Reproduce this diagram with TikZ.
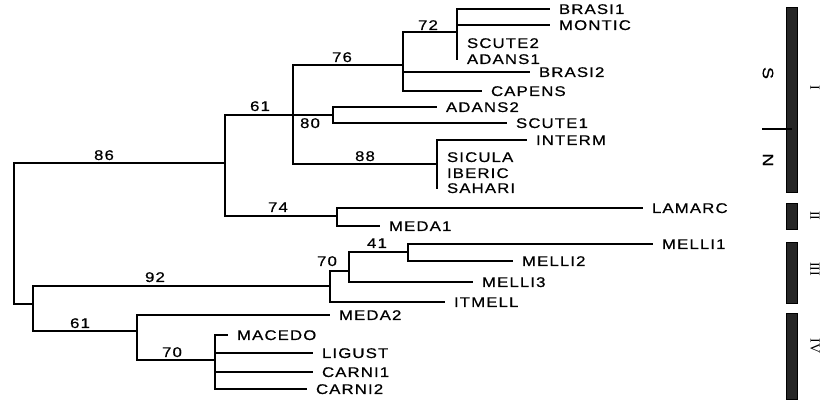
\documentclass[tikz,border=0pt]{standalone}
\usepackage{fontspec}
\setmainfont{Liberation Serif}
\newfontfamily\taxonfont[FakeStretch=1.2,LetterSpace=8,FakeBold=0.6]{Liberation Sans}
\usepackage{tikz}
\usetikzlibrary{positioning, calc}
\tikzset{
    branch/.style={line width=1.3pt},
    leaf_label/.style={anchor=west, inner sep=0pt, outer xsep=9pt, text height=10pt, text depth=0pt, font=\taxonfont\fontsize{14}{16}\selectfont},
    supp_label/.style={inner sep=0pt, text height=10pt, text depth=0pt, font=\taxonfont\fontsize{14}{16}\selectfont},
    bar_block/.style={rectangle, fill=black!85, draw=black, line width=0.4pt, minimum width=11pt, inner sep=0pt},
    group_label/.style={rotate=-90, inner sep=0pt, font=\taxonfont\fontsize{15}{17}\selectfont},
    roman_label/.style={rotate=-90, inner sep=0pt, font=\fontsize{14}{16}\selectfont}
}
\begin{document}
\begin{tikzpicture}[x=1pt, y=-1pt]
            \useasboundingbox (0,0) rectangle (820,403);
            % internal nodes
            \coordinate (root) at (14,233);
            \coordinate (n86) at (225,163);
            \coordinate (n61) at (293,115);
            \coordinate (n76) at (403,65);
            \coordinate (n72) at (457,32);
            \coordinate (n80) at (333,115);
            \coordinate (n88) at (437,164);
            \coordinate (n74) at (337,216);
            \coordinate (low) at (33,304);
            \coordinate (n92) at (330,286);
            \coordinate (n70a) at (349,271);
            \coordinate (n41) at (408,252);
            \coordinate (n61b) at (137,331);
            \coordinate (n70b) at (215,360);

            % taxa
            \node (brasi1) [leaf_label] at (550,9) {BRASI1};
            \node (montic) [leaf_label] at (550,25) {MONTIC};
            \node (scute2) [leaf_label] at (458,43) {SCUTE2};
            \node (adans1) [leaf_label] at (458,59) {ADANS1};
            \node (brasi2) [leaf_label] at (530,72) {BRASI2};
            \node (capens) [leaf_label] at (482,91) {CAPENS};
            \node (adans2) [leaf_label] at (437,107) {ADANS2};
            \node (scute1) [leaf_label] at (507,123) {SCUTE1};
            \node (interm) [leaf_label] at (527,140) {INTERM};
            \node (sicula) [leaf_label] at (438,157) {SICULA};
            \node (iberic) [leaf_label] at (438,173) {IBERIC};
            \node (sahari) [leaf_label] at (438,188) {SAHARI};
            \node (lamarc) [leaf_label] at (643,208) {LAMARC};
            \node (meda1) [leaf_label] at (380,226) {MEDA1};
            \node (melli1) [leaf_label] at (653,244) {MELLI1};
            \node (melli2) [leaf_label] at (513,261) {MELLI2};
            \node (melli3) [leaf_label] at (473,282) {MELLI3};
            \node (itmell) [leaf_label] at (445,302) {ITMELL};
            \node (meda2) [leaf_label] at (330,315) {MEDA2};
            \node (macedo) [leaf_label] at (228,335) {MACEDO};
            \node (ligust) [leaf_label] at (313,353) {LIGUST};
            \node (carni1) [leaf_label] at (313,372) {CARNI1};
            \node (carni2) [leaf_label] at (307,389) {CARNI2};

            % branches
            \draw [branch] (root) |- (n86);
            \draw [branch] (root) |- (low);
            \draw [branch] (n86) |- (n61);
            \draw [branch] (n86) |- (n74);
            \draw [branch] (n61) |- (n76);
            \draw [branch] (n61) |- (n80);
            \draw [branch] (n61) |- (n88);
            \draw [branch] (n76) |- (n72);
            \draw [branch] (n76) |- (brasi2);
            \draw [branch] (n76) |- (capens);
            \draw [branch] (n72) |- (brasi1);
            \draw [branch] (n72) |- (montic);
            \draw [branch] (n72) |- (scute2);
            \draw [branch] (n72) |- (adans1);
            \draw [branch] (n80) |- (adans2);
            \draw [branch] (n80) |- (scute1);
            \draw [branch] (n88) |- (interm);
            \draw [branch] (n88) |- (sicula);
            \draw [branch] (n88) |- (iberic);
            \draw [branch] (n88) |- (sahari);
            \draw [branch] (n74) |- (lamarc);
            \draw [branch] (n74) |- (meda1);
            \draw [branch] (low) |- (n92);
            \draw [branch] (low) |- (n61b);
            \draw [branch] (n92) |- (n70a);
            \draw [branch] (n92) |- (itmell);
            \draw [branch] (n70a) |- (n41);
            \draw [branch] (n70a) |- (melli3);
            \draw [branch] (n41) |- (melli1);
            \draw [branch] (n41) |- (melli2);
            \draw [branch] (n61b) |- (meda2);
            \draw [branch] (n61b) |- (n70b);
            \draw [branch] (n70b) |- (macedo);
            \draw [branch] (n70b) |- (ligust);
            \draw [branch] (n70b) |- (carni1);
            \draw [branch] (n70b) |- (carni2);

            % bootstrap values
            \node (s86) [supp_label] at (104,155) {86};
            \node (s61) [supp_label] at (260,106) {61};
            \node (s76) [supp_label] at (342,57) {76};
            \node (s72) [supp_label] at (428,25) {72};
            \node (s80) [supp_label] at (310,123) {80};
            \node (s88) [supp_label] at (365,156) {88};
            \node (s74) [supp_label] at (278,207) {74};
            \node (s92) [supp_label] at (155,277) {92};
            \node (s61b) [supp_label] at (80,323) {61};
            \node (s70b) [supp_label] at (172,352) {70};
            \node (s70a) [supp_label] at (327,261) {70};
            \node (s41) [supp_label] at (377,243) {41};

            % lineage bars
            \node (bar1) [bar_block, minimum height=185pt] at (791.5,99.5) {};
            \node (bar2) [bar_block, minimum height=26pt] at (791.5,216) {};
            \node (bar3) [bar_block, minimum height=61pt] at (791.5,272.5) {};
            \node (bar4) [bar_block, minimum height=86pt] at (791.5,356) {};
            \coordinate (tick) at (762,129);
            \draw [line width=1.3pt] (tick) -- (tick -| bar1.center);
            \node (grpS) [group_label] at (768,73) {S};
            \node (grpN) [group_label] at (768,160) {N};
            \node (lin1) [roman_label] at (815,88) {I};
            \node (lin2) [roman_label] at (815,216) {II};
            \node (lin3) [roman_label] at (815,269) {III};
            \node (lin4) [roman_label] at (815,346) {IV};
\end{tikzpicture}
\end{document}
